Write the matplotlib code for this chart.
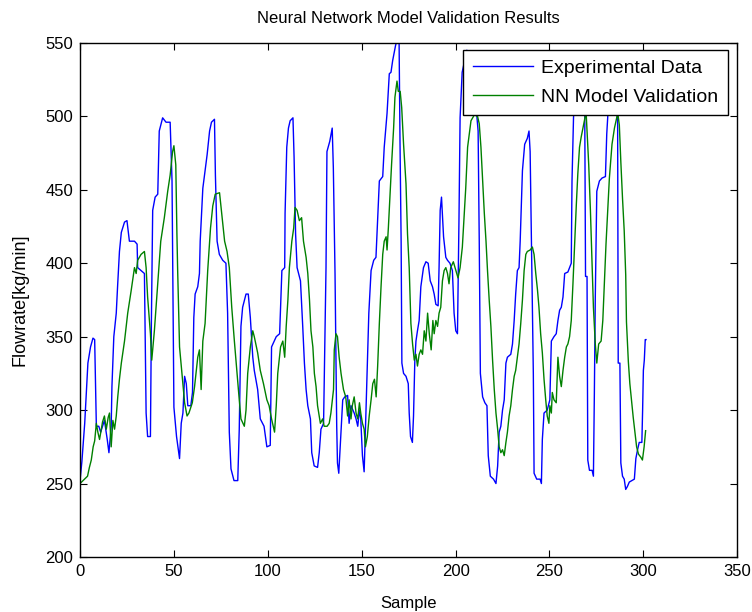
import numpy as np
import matplotlib
matplotlib.use('Agg')
import matplotlib.pyplot as plt

plt.rcParams['font.family'] = ['Liberation Sans', 'DejaVu Sans']

TITLE = 'Neural Network Model Validation Results'
XLABEL = 'Sample'
YLABEL = 'Flowrate[kg/min]'
LABELS = ['Experimental Data', 'NN Model Validation']

exp_sample = [0, 1, 2.5, 4.2, 5.6, 6.9, 7.8, 8.7, 10, 11, 12, 13, 14.5, 15.4, 16.6, 17, 18, 19.3, 20, 21,
              22, 23.7, 25, 26.3, 29, 30.4, 30.7, 32.5, 34.3, 35.2, 36, 37.5, 38, 38.7, 40, 41.4, 42.2, 44,
              45.8, 48, 49, 50, 51.4, 53, 53.9, 54.8, 55.7, 56.6, 57.4, 59, 59.9, 60.6, 61.3, 62.7, 63.6, 64,
              65.4, 66.3, 67.7, 69, 70, 71.6, 72.1, 73, 74.2, 76, 77.7, 78.6, 79.5, 80.4, 82, 84, 84.8, 85.7,
              86.6, 88.4, 89.6, 90.7, 92, 92.8, 94.6, 96, 98, 99.5, 101.3, 102, 104.5, 106.3, 106.8, 107.5,
              109, 109.2, 110.1, 111, 111.9, 113.4, 114, 114.8, 115.6, 117.4, 118.6, 119.5, 120.4, 121.3,
              122.7, 123.4, 124.7, 126.5, 127.4, 128.3, 129.7, 131, 131.5, 133, 134.3, 134.9, 135.8, 136.7,
              137.1, 137.8, 139, 139.9, 141, 142.5, 143.3, 144.3, 146, 147, 147.9, 148.8, 149.5, 150.4, 151.3,
              152, 153, 153.8, 155, 156.4, 157.6, 159.4, 161.2, 162, 163.5, 164.7, 165.6, 166.5, 168, 169,
              169.9, 170.4, 171, 171.4, 172.3, 173.6, 174.8, 175.3, 176, 177, 177.6, 178.3, 178.9, 179.7,
              180.6, 181.5, 182.9, 184.2, 185.4, 186.5, 187.7, 188.6, 189.5, 190.7, 191.2, 191.8, 192.5,
              193.6, 194.8, 195.7, 197, 198.3, 199.2, 200.1, 201, 201.8, 202.4, 203.5, 206, 209, 211, 211.4,
              212, 212.6, 213.2, 214.4, 215.6, 216.7, 217.4, 218.5, 220.2, 221.5, 222.4, 223.2, 224.1, 225,
              225.9, 226.8, 227.6, 229.4, 230.3, 231.2, 232, 232.9, 233.8, 234.4, 235.6, 236.8, 238.2, 239.1,
              239.7, 240.4, 240.9, 241.4, 241.8, 243.2, 245, 245.7, 246.2, 247.1, 248.8, 250.2, 251, 252.4,
              253.6, 254.5, 255.4, 256.3, 257.2, 258.1, 259.8, 261.6, 262, 262.8, 264, 266, 268.3, 268.8,
              269.2, 270, 270.4, 271.3, 272.7, 273.4, 273.9, 274.4, 275.2, 276.6, 278, 279.8, 280.5, 281,
              282, 284, 285.8, 286.3, 286.6, 287.5, 288, 288.9, 289.8, 290.6, 291.5, 292.5, 293.9, 295.2,
              296, 296.9, 297.8, 299.2, 299.6, 300, 300.5, 301, 301.4]
exp_flow = [252, 265, 291, 332, 343, 349, 348, 289, 289, 285, 289, 293, 280, 271, 289, 316, 350, 366, 384, 408,
            421, 428, 429, 415, 415, 413, 397, 395, 393, 298, 282, 282, 359, 436, 445, 447, 490, 499,
            496, 496, 456, 302, 282, 267, 291, 298, 323, 318, 303, 303, 312, 363, 379, 384, 393, 415,
            451, 460, 474, 490, 496, 498, 460, 415, 406, 402, 400, 366, 285, 260, 252, 252, 287, 357,
            370, 379, 379, 363, 336, 327, 314, 294, 289, 275, 276, 343, 350, 352, 370, 395,
            397, 434, 479, 492, 497, 499, 472, 420, 397, 388, 357, 332, 314, 303,
            294, 271, 262, 261, 271, 287, 291, 397, 476, 483, 492, 465, 393, 289,
            264, 257, 285, 307, 309, 310, 291, 303, 298, 294, 289, 300, 294, 269, 258,
            287, 332, 366, 395, 402, 404, 456, 459, 479, 502, 529, 530, 538, 548, 553,
            553, 483, 415, 332, 325, 323, 318, 298, 282, 278, 296, 334, 347, 354,
            361, 384, 397, 401, 400, 388, 384, 379, 372, 371, 397, 436, 445,
            418, 404, 402, 400, 395, 366, 354, 352, 429, 499, 530, 545, 540, 520, 499,
            490, 415, 325, 309, 305, 303, 269, 255, 253, 250, 262, 285, 289, 300,
            307, 332, 336, 338, 345, 361, 379, 395, 397, 415, 463, 481, 485, 490,
            476, 411, 370, 325, 257, 253, 253, 250, 280, 298, 300, 307, 347, 350,
            352, 361, 368, 370, 377, 393, 394, 400, 456, 499, 530, 540, 530, 499,
            391, 391, 266, 259, 259, 255, 311, 377, 449, 456, 458, 459, 488, 499,
            530, 540, 520, 494, 332, 332, 264, 255, 253, 246, 248, 251, 252, 253,
            267, 273, 278, 278, 300, 327, 334, 348, 348]

# neural network model output (sample, flowrate)
nn_sample = [0, 4, 5, 6, 7, 7.8, 8.7, 9.5, 10.4, 12, 13, 14, 15, 15.7, 16.6, 17.5, 18.4, 19.3, 20.1, 21, 22,
             23.7, 25.4, 27.2, 29, 29.9, 30.7, 32.5, 34.3, 35.2, 36, 37.5, 38.2, 39.6, 41.4, 43, 44.9, 46.7,
             48, 49.3, 50, 51, 51.6, 52, 53, 54.3, 55.7, 57, 58, 59.8, 61, 62.7, 63.6, 64.5, 65.4, 66.6, 68,
             69.5, 70.7, 72, 74.3, 75.2, 77, 78.3, 79.5, 80.8, 82.2, 83.6, 84.8, 85.7, 87.5, 88.4, 89.3,
             90.7, 92, 92.8, 94.6, 96, 97.7, 99.5, 100.7, 102, 103.6, 104.5, 105.3, 106.8, 108, 109, 109.8,
             110.7, 111.5, 112.8, 113.8, 114.5, 115.6, 116.8, 118, 119, 120.4, 121.3, 122.2, 123, 124,
             124.8, 125.7, 126.5, 128, 129.2, 130, 131.6, 132.7, 133.6, 135, 135.4, 136.3, 137.1, 138, 139,
             140.3, 141.5, 142.5, 143.3, 144.3, 145, 146, 147, 147.9, 148.8, 149.5, 150.4, 151.3, 152, 153,
             154, 155, 155.9, 156.8, 157.7, 158.5, 159.4, 160.3, 161.2, 162, 163, 163.5, 164.2, 165.2,
             165.9, 167, 167.7, 168.8, 169.5, 170.5, 171.3, 172.3, 173.6, 174.4, 175.3, 176.2, 177.1, 178,
             178.9, 179.7, 180.6, 181.5, 182.4, 183.3, 184.2, 185.1, 186, 187, 187.9, 188.6, 189.5, 190.4,
             191.2, 192.1, 193, 193.9, 194.8, 195.7, 196.5, 197.4, 198.8, 199.7, 200.6, 201.3, 202.4,
             203.6, 204.5, 205.4, 206.4, 207.3, 208.2, 210, 211.7, 212.6, 213.5, 214.4, 215.3, 216.2, 217,
             217.9, 218.8, 219.7, 220.6, 221.5, 222.4, 223.2, 224.1, 225, 225.9, 226.8, 227.6, 228.5,
             229.4, 230.3, 231.2, 232, 232.9, 233.8, 234.7, 235.6, 236.5, 237.4, 238.2, 239.7, 240.9,
             241.8, 242.7, 243.6, 244.4, 245.3, 246.2, 247.1, 248, 248.8, 249.7, 250.2, 251, 251.5, 252.4,
             253.6, 254.5, 255.4, 256.3, 257.2, 258.1, 259, 259.8, 260.7, 261.6, 262.5, 263.4, 264.3,
             265.1, 266, 266.9, 267.8, 268.6, 269.5, 270, 270.9, 271.8, 272.7, 273.4, 274.4, 275.2, 276.2,
             277.5, 278.4, 279.3, 280.1, 281, 281.9, 283.3, 284.6, 285.8, 286.3, 287.2, 288, 288.9, 289.8,
             290.6, 291, 292, 292.8, 293.9, 294.6, 295.6, 296.4, 297.4, 298.6, 299.5, 300.4, 301.2]
nn_flow = [250, 255, 261, 266, 275, 279, 291, 285, 280, 292, 296, 287, 295, 298, 275, 293, 287, 296, 309, 321, 332,
           347, 366, 381, 397, 393, 402, 406, 408, 397, 377, 352, 334, 354, 386, 415, 431, 449,
           460, 476, 480, 467, 420, 395, 343, 325, 305, 296, 298, 305, 316, 336, 341, 314, 347, 359, 395,
           424, 439, 447, 448, 437, 415, 408, 397, 370, 347, 325, 307, 294, 289, 300, 325,
           343, 354, 350, 339, 327, 318, 307, 303, 294, 285, 303, 325, 343, 347, 336, 357,
           375, 397, 415, 424, 438, 436, 429, 431, 415, 404, 393, 375, 354, 343,
           325, 316, 303, 291, 294, 289, 289, 291, 298, 314, 341, 352, 350, 336, 325,
           314, 309, 296, 307, 294, 303, 309, 298, 294, 305, 298, 291, 287, 275, 282,
           296, 307, 318, 321, 309, 330, 359, 384, 406, 415, 418, 409, 424, 449,
           467, 492, 513, 524, 517, 517, 506, 481, 454, 420, 397, 359, 345, 334,
           338, 330, 338, 341, 338, 354, 347, 366, 352, 341, 361, 352, 361, 357,
           366, 370, 388, 395, 397, 393, 386, 397, 401, 397, 393, 390, 397,
           411, 431, 451, 479, 488, 497, 501, 500, 495, 479, 456, 434, 415, 395,
           375, 357, 334, 314, 298, 287, 275, 271, 273, 269, 278, 285, 296,
           303, 314, 323, 327, 336, 345, 359, 375, 395, 406, 408, 409, 411,
           406, 393, 382, 370, 352, 339, 321, 307, 296, 291, 303, 298, 312, 307,
           305, 336, 323, 316, 327, 336, 343, 345, 350, 361, 386, 413, 440,
           461, 479, 486, 492, 497, 503, 490, 467, 436, 400, 370, 345, 332, 345,
           347, 361, 388, 413, 436, 458, 481, 492, 499, 503, 494, 469, 444, 422,
           392, 360, 333, 318, 304, 295, 284, 275, 270, 268, 266, 275, 286]

fig = plt.figure(figsize=(7.52, 6.12), dpi=100)
ax = fig.add_axes([0.1064, 0.0899, 0.874, 0.840])

ax.plot(exp_sample, exp_flow, color=(0, 0, 1), lw=1.0, label=LABELS[0])
ax.plot(nn_sample, nn_flow, color=(0, 0.5, 0), lw=1.0, label=LABELS[1])

ax.set_xlim(0, 350)
ax.set_ylim(200, 550)
ax.set_xticks(np.arange(0, 351, 50))
ax.set_yticks(np.arange(200, 551, 50))
ax.tick_params(direction='in', top=True, right=True, length=5, labelsize=12, pad=5)
for sp in ax.spines.values():
    sp.set_linewidth(1.0)

ax.set_title(TITLE, fontsize=12, pad=14)
ax.set_xlabel(XLABEL, fontsize=12, labelpad=12)
ax.set_ylabel(YLABEL, fontsize=13, labelpad=12)

leg = ax.legend(loc='upper right', bbox_to_anchor=(0.986, 0.9864), borderaxespad=0,
                fontsize=14, fancybox=False, framealpha=1, edgecolor='black',
                handlelength=3.1, handletextpad=0.4, borderpad=0.5, labelspacing=0.55)
leg.get_frame().set_linewidth(1.0)

fig.savefig('out.png', dpi=100)
